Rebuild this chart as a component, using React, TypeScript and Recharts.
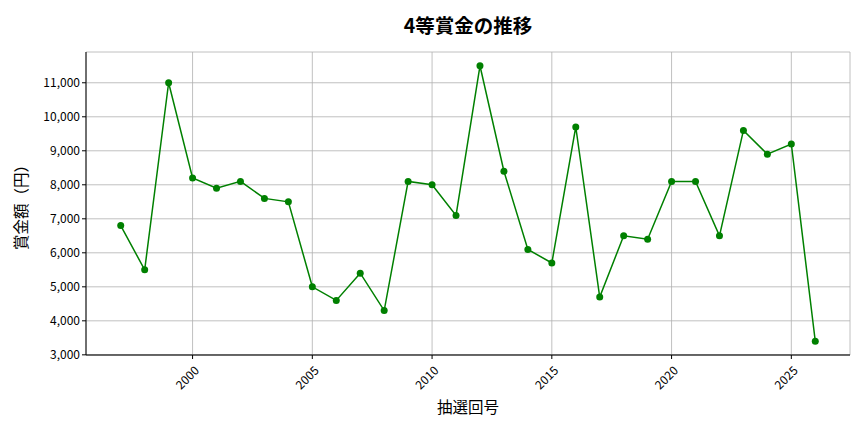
import React from 'react';
import { LineChart, Line, XAxis, YAxis, CartesianGrid, Label } from 'recharts';

// 抽選年
const years = [
  1997, 1998, 1999, 2000, 2001, 2002, 2003, 2004, 2005, 2006,
  2007, 2008, 2009, 2010, 2011, 2012, 2013, 2014, 2015, 2016,
  2017, 2018, 2019, 2020, 2021, 2022, 2023, 2024, 2025, 2026,
];
// 4等賞金（円）
const prizes = [
  6800, 5500, 11000, 8200, 7900, 8100, 7600, 7500, 5000, 4600,
  5400, 4300, 8100, 8000, 7100, 11500, 8400, 6100, 5700, 9700,
  4700, 6500, 6400, 8100, 8100, 6500, 9600, 8900, 9200, 3400,
];
const xTicks = [2000, 2005, 2010, 2015, 2020, 2025];
const yTicks = [3000, 4000, 5000, 6000, 7000, 8000, 9000, 10000, 11000];

const data = years.map((year, i) => ({ year, prize: prizes[i] }));

const FONT = '"Noto Sans CJK JP", "Noto Sans", sans-serif';

const XTick = (props: any) => {
  const { x, y, payload } = props;
  return (
    <text
      x={x + 5}
      y={y + 8}
      transform={`rotate(-45, ${x + 5}, ${y + 8})`}
      textAnchor="end"
      dominantBaseline="middle"
      fontSize={12}
      fontFamily={FONT}
      fill="#000"
    >
      {payload.value}
    </text>
  );
};

const App = () => {
  return (
    <div style={{ position: 'absolute', left: 0, top: 0, width: 864, height: 432, background: '#fff' }}>
      <div
        style={{
          position: 'absolute',
          left: 0,
          width: 936,
          top: 10,
          textAlign: 'center',
          fontFamily: FONT,
          fontWeight: 'bold',
          fontSize: 19.5,
          color: '#000',
        }}
      >
        4等賞金の推移
      </div>
      <LineChart
        width={864}
        height={432}
        data={data}
        margin={{ top: 52, right: 14, left: 0, bottom: 0 }}
      >
        <CartesianGrid stroke="#b0b0b0" strokeWidth={0.8} />
        <XAxis
          dataKey="year"
          type="number"
          domain={[1995.55, 2027.45]}
          ticks={xTicks}
          allowDataOverflow
          height={77}
          tick={<XTick />}
          tickSize={4}
          tickLine={{ stroke: '#000' }}
          axisLine={{ stroke: '#000', strokeWidth: 1 }}
          interval={0}
        >
          <Label
            value="抽選回号"
            position="insideBottom"
            offset={19}
            style={{ fontFamily: FONT, fontSize: 15.5, fill: '#000' }}
          />
        </XAxis>
        <XAxis
          xAxisId="top"
          orientation="top"
          dataKey="year"
          type="number"
          domain={[1995.55, 2027.45]}
          height={0}
          tick={false}
          tickLine={false}
          axisLine={{ stroke: '#000', strokeWidth: 1 }}
        />
        <YAxis
          type="number"
          domain={[2995, 11905]}
          ticks={yTicks}
          allowDataOverflow
          width={86}
          tickSize={4}
          tickLine={{ stroke: '#000' }}
          axisLine={{ stroke: '#000', strokeWidth: 1 }}
          tick={{ fontSize: 12, fontFamily: FONT, fill: '#000' }}
          tickFormatter={(v: number) => v.toLocaleString('en-US')}
          interval={0}
        >
          <Label
            value="賞金額（円）"
            angle={-90}
            position="insideLeft"
            offset={21}
            style={{ fontFamily: FONT, fontSize: 15.5, fill: '#000', textAnchor: 'middle' }}
          />
        </YAxis>
        <YAxis
          yAxisId="right"
          orientation="right"
          type="number"
          domain={[2995, 11905]}
          width={0}
          tick={false}
          tickLine={false}
          axisLine={{ stroke: '#000', strokeWidth: 1 }}
        />
        <Line
          type="linear"
          dataKey="prize"
          stroke="#008000"
          strokeWidth={1.5}
          dot={{ r: 3.5, fill: '#008000', stroke: '#008000', strokeWidth: 0 }}
          activeDot={false}
          isAnimationActive={false}
        />
      </LineChart>
    </div>
  );
};

export default App;
